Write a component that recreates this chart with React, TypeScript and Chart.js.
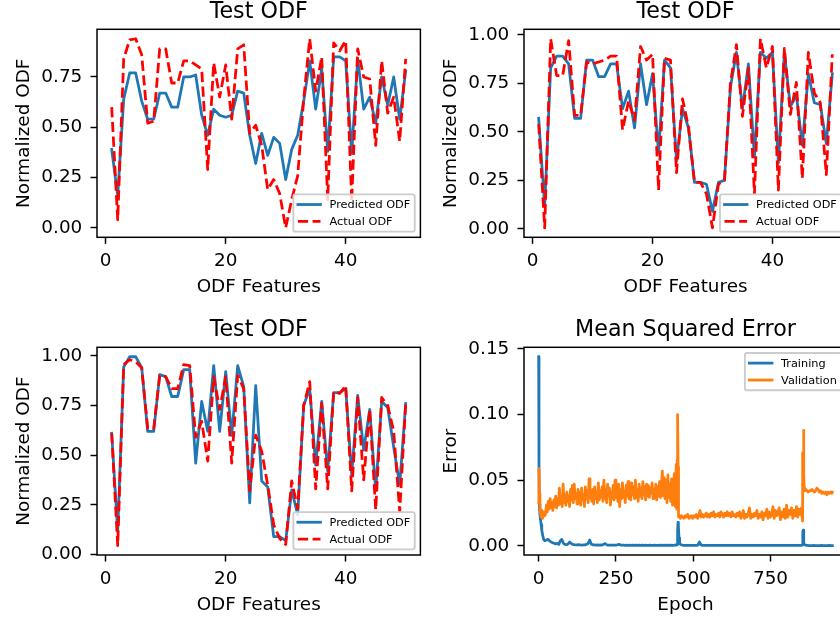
import React, { useEffect, useRef } from "react";
import { Chart, registerables } from "chart.js";

Chart.register(...registerables);

// ---------------- data ----------------
const odfFeatures = [
  1, 2, 3, 4, 5, 6, 7, 8, 9, 10, 11, 12, 13, 14, 15, 16, 17, 18, 19, 20, 21, 22, 23, 24, 25,
  26, 27, 28, 29, 30, 31, 32, 33, 34, 35, 36, 37, 38, 39, 40, 41, 42, 43, 44, 45, 46, 47, 48, 49, 50,
];

const test1Predicted = [
  0.39, 0.16, 0.64, 0.77, 0.77, 0.63, 0.54, 0.54, 0.67, 0.67,
  0.6, 0.6, 0.75, 0.75, 0.76, 0.56, 0.46, 0.59, 0.56, 0.55,
  0.56, 0.68, 0.67, 0.46, 0.32, 0.47, 0.36, 0.45, 0.42, 0.24,
  0.39, 0.46, 0.63, 0.83, 0.59, 0.79, 0.38, 0.85, 0.85, 0.83,
  0.37, 0.84, 0.59, 0.65, 0.52, 0.75, 0.61, 0.75, 0.54, 0.78,
];
const test1Actual = [
  0.6, 0.04, 0.84, 0.935, 0.94, 0.86, 0.52, 0.53, 0.89, 0.89,
  0.72, 0.72, 0.83, 0.83, 0.81, 0.79, 0.29, 0.82, 0.65, 0.81,
  0.54, 0.89, 0.91, 0.47, 0.51, 0.41, 0.19, 0.24, 0.17, 0.0,
  0.14, 0.26, 0.64, 0.94, 0.68, 0.85, 0.14, 0.92, 0.88, 0.93,
  0.13, 0.89, 0.75, 0.74, 0.41, 0.83, 0.57, 0.65, 0.43, 0.84,
];

const test2Predicted = [
  0.57, 0.115, 0.83, 0.89, 0.89, 0.85, 0.57, 0.57, 0.87, 0.87,
  0.785, 0.785, 0.85, 0.85, 0.62, 0.71, 0.52, 0.85, 0.64, 0.8,
  0.39, 0.87, 0.83, 0.35, 0.62, 0.52, 0.24, 0.24, 0.23, 0.09,
  0.24, 0.25, 0.73, 0.91, 0.62, 0.85, 0.37, 0.91, 0.88, 0.91,
  0.34, 0.91, 0.63, 0.69, 0.43, 0.8, 0.65, 0.64, 0.44, 0.8,
];
const test2Actual = [
  0.54, 0.005, 0.98, 0.79, 0.79, 0.97, 0.585, 0.585, 0.86, 0.85,
  0.86, 0.87, 0.89, 0.89, 0.51, 0.66, 0.56, 0.94, 0.87, 0.9,
  0.2, 0.88, 0.87, 0.29, 0.67, 0.525, 0.24, 0.24, 0.18, 0.005,
  0.23, 0.25, 0.75, 0.95, 0.58, 0.83, 0.18, 0.98, 0.83, 0.94,
  0.2, 0.93, 0.59, 0.755, 0.26, 0.91, 0.7, 0.65, 0.28, 0.9,
];

const test3Predicted = [
  0.61, 0.115, 0.945, 0.995, 0.995, 0.94, 0.62, 0.62, 0.905, 0.895,
  0.795, 0.795, 0.93, 0.93, 0.46, 0.77, 0.62, 0.95, 0.62, 0.92,
  0.6, 0.95, 0.845, 0.26, 0.85, 0.37, 0.34, 0.09, 0.09, 0.07,
  0.325, 0.2, 0.75, 0.835, 0.45, 0.77, 0.42, 0.815, 0.815, 0.835,
  0.4, 0.8, 0.525, 0.73, 0.32, 0.77, 0.74, 0.54, 0.35, 0.76,
];
const test3Actual = [
  0.61, 0.045, 0.955, 0.98, 0.97, 0.94, 0.635, 0.635, 0.9, 0.895,
  0.835, 0.835, 0.955, 0.95, 0.59, 0.67, 0.47, 0.895, 0.73, 0.895,
  0.46, 0.9, 0.835, 0.32, 0.6, 0.52, 0.35, 0.15, 0.08, 0.05,
  0.37, 0.23, 0.75, 0.87, 0.33, 0.76, 0.33, 0.82, 0.81, 0.85,
  0.32, 0.79, 0.375, 0.73, 0.225, 0.79, 0.75, 0.62, 0.215, 0.76,
];

const trainingEpochs = [
  0, 1, 2, 4, 6, 8, 10, 13, 16, 20,
  25, 30, 35, 40, 45, 50, 55, 60, 65, 70,
  75, 80, 85, 90, 95, 100, 105, 110, 115, 120,
  125, 130, 135, 140, 145, 150, 155, 160, 165, 170,
  175, 180, 185, 190, 195, 200, 205, 210, 215, 220,
  225, 230, 235, 240, 245, 250, 255, 260, 265, 270,
  275, 280, 285, 290, 295, 300, 305, 310, 315, 320,
  325, 330, 335, 340, 345, 350, 355, 360, 365, 370,
  375, 380, 385, 390, 395, 400, 405, 410, 415, 420,
  425, 430, 435, 440, 443, 446, 448, 449, 450, 451,
  452, 454, 456, 460, 465, 470, 475, 480, 485, 490,
  495, 500, 505, 510, 515, 520, 525, 530, 535, 540,
  545, 550, 555, 560, 565, 570, 575, 580, 585, 590,
  595, 600, 605, 610, 615, 620, 625, 630, 635, 640,
  645, 650, 655, 660, 665, 670, 675, 680, 685, 690,
  695, 700, 705, 710, 715, 720, 725, 730, 735, 740,
  745, 750, 755, 760, 765, 770, 775, 780, 785, 790,
  795, 800, 805, 810, 815, 820, 825, 830, 835, 840,
  845, 848, 851, 853, 854, 855, 856, 857, 858, 860,
  863, 866, 870, 875, 880, 885, 890, 895, 900, 905,
  910, 915, 920, 925, 930, 935, 940, 945, 950,
];
const trainingMse = [
  0.144, 0.06, 0.032, 0.024, 0.02, 0.016, 0.012, 0.008, 0.005, 0.004,
  0.0045, 0.005, 0.004, 0.003, 0.0025, 0.002, 0.0015, 0.002, 0.0012, 0.004,
  0.005, 0.002, 0.0012, 0.001, 0.0015, 0.003, 0.002, 0.0012, 0.001, 0.0009,
  0.0008, 0.001, 0.0008, 0.0007, 0.0009, 0.0008, 0.0012, 0.002, 0.0045, 0.0015,
  0.0009, 0.0008, 0.0007, 0.0008, 0.0007, 0.0008, 0.0007, 0.0012, 0.0018, 0.0009,
  0.0007, 0.0006, 0.0007, 0.0006, 0.0007, 0.0006, 0.0009, 0.0012, 0.0007, 0.0006,
  0.0006, 0.0005, 0.0006, 0.0005, 0.0006, 0.0005, 0.0006, 0.0005, 0.0006, 0.0005,
  0.0006, 0.0005, 0.0006, 0.0005, 0.0006, 0.0005, 0.0005, 0.0006, 0.0005, 0.0005,
  0.0006, 0.0005, 0.0005, 0.0006, 0.0005, 0.0006, 0.0005, 0.0006, 0.0005, 0.0006,
  0.0005, 0.0006, 0.0005, 0.0006, 0.0008, 0.0007, 0.001, 0.0015, 0.012, 0.018,
  0.015, 0.006, 0.002, 0.001, 0.0007, 0.0005, 0.0004, 0.0005, 0.0004, 0.0005,
  0.0004, 0.0005, 0.0004, 0.0005, 0.0006, 0.003, 0.0008, 0.0005, 0.0004, 0.0005,
  0.0004, 0.0004, 0.0005, 0.0004, 0.0004, 0.0005, 0.0004, 0.0004, 0.0005, 0.0004,
  0.0004, 0.0005, 0.0004, 0.0004, 0.0005, 0.0004, 0.0004, 0.0005, 0.0004, 0.0004,
  0.0005, 0.0004, 0.0004, 0.0005, 0.0004, 0.0004, 0.0005, 0.0004, 0.0004, 0.0005,
  0.0004, 0.0004, 0.0005, 0.0004, 0.0004, 0.0005, 0.0004, 0.0004, 0.0005, 0.0004,
  0.0004, 0.0005, 0.0004, 0.0004, 0.0005, 0.0004, 0.0004, 0.0005, 0.0004, 0.0004,
  0.0005, 0.0004, 0.0004, 0.0005, 0.0004, 0.0004, 0.0005, 0.0004, 0.0004, 0.0005,
  0.0004, 0.0004, 0.0005, 0.0008, 0.004, 0.011, 0.012, 0.006, 0.002, 0.001,
  0.0006, 0.0004, 0.0004, 0.0003, 0.0003, 0.0003, 0.0004, 0.0003, 0.0003, 0.0003,
  0.0003, 0.0004, 0.0003, 0.0003, 0.0003, 0.0003, 0.0004, 0.0003, 0.0003,
];

const validationEpochs = [
  0, 1, 2, 4, 6, 8, 10, 13, 16, 19,
  22, 25, 28, 31, 34, 37, 40, 43, 46, 49,
  52, 55, 58, 61, 64, 67, 70, 73, 76, 79,
  82, 85, 88, 91, 94, 97, 100, 103, 106, 109,
  112, 115, 118, 121, 124, 127, 130, 133, 136, 139,
  142, 145, 148, 151, 154, 157, 160, 163, 166, 169,
  172, 175, 178, 181, 184, 187, 190, 193, 196, 199,
  202, 205, 208, 211, 214, 217, 220, 223, 226, 229,
  232, 235, 238, 241, 244, 247, 250, 253, 256, 259,
  262, 265, 268, 271, 274, 277, 280, 283, 286, 289,
  292, 295, 298, 301, 304, 307, 310, 313, 316, 319,
  322, 325, 328, 331, 334, 337, 340, 343, 346, 349,
  352, 355, 358, 361, 364, 367, 370, 373, 376, 379,
  382, 385, 388, 391, 394, 397, 400, 403, 406, 409,
  412, 415, 418, 421, 424, 427, 430, 433, 436, 439,
  442, 445, 447, 448, 449, 450, 451, 452, 453, 455,
  458, 462, 466, 470, 474, 478, 482, 486, 490, 494,
  498, 502, 506, 510, 514, 518, 522, 526, 530, 534,
  538, 542, 546, 550, 554, 558, 562, 566, 570, 574,
  578, 582, 586, 590, 594, 598, 602, 606, 610, 614,
  618, 622, 626, 630, 634, 638, 642, 646, 650, 654,
  658, 662, 666, 670, 674, 678, 682, 686, 690, 694,
  698, 702, 706, 710, 714, 718, 722, 726, 730, 734,
  738, 742, 746, 750, 754, 758, 762, 766, 770, 774,
  778, 782, 786, 790, 794, 798, 802, 806, 810, 814,
  818, 822, 826, 830, 834, 838, 842, 846, 850,
  852, 853, 854, 855, 856, 857, 858, 859, 861, 864,
  868, 872, 876, 880, 884, 888, 892, 896, 900, 904,
  908, 912, 916, 920, 924, 928, 932, 936, 940, 944,
  948, 950,
];
const validationMse = [
  0.033, 0.059, 0.04, 0.03, 0.024, 0.022, 0.027, 0.021, 0.026, 0.023,
  0.024, 0.031, 0.026, 0.034, 0.028, 0.036, 0.029, 0.033, 0.027, 0.035,
  0.03, 0.038, 0.029, 0.036, 0.031, 0.044, 0.032, 0.037, 0.03, 0.047,
  0.033, 0.039, 0.031, 0.041, 0.034, 0.038, 0.03, 0.043, 0.035, 0.046,
  0.033, 0.047, 0.036, 0.04, 0.032, 0.043, 0.034, 0.041, 0.031, 0.044,
  0.035, 0.039, 0.03, 0.045, 0.036, 0.042, 0.033, 0.051, 0.037, 0.04,
  0.034, 0.043, 0.032, 0.045, 0.036, 0.041, 0.033, 0.048, 0.035, 0.042,
  0.037, 0.045, 0.034, 0.05, 0.036, 0.043, 0.033, 0.047, 0.038, 0.044,
  0.031, 0.041, 0.036, 0.046, 0.035, 0.05, 0.037, 0.044, 0.034, 0.047,
  0.03, 0.043, 0.036, 0.048, 0.037, 0.042, 0.033, 0.046, 0.038, 0.049,
  0.036, 0.044, 0.035, 0.048, 0.039, 0.045, 0.036, 0.05, 0.037, 0.043,
  0.034, 0.047, 0.038, 0.044, 0.036, 0.049, 0.039, 0.045, 0.035, 0.047,
  0.038, 0.046, 0.037, 0.044, 0.04, 0.048, 0.036, 0.043, 0.039, 0.047,
  0.035, 0.045, 0.038, 0.049, 0.037, 0.046, 0.057, 0.038, 0.052, 0.036,
  0.05, 0.033, 0.054, 0.037, 0.047, 0.034, 0.051, 0.031, 0.046, 0.055,
  0.03, 0.062, 0.028, 0.065, 0.045, 0.1, 0.06, 0.024, 0.022, 0.023,
  0.021, 0.023, 0.022, 0.021, 0.023, 0.022, 0.024, 0.021, 0.022, 0.023,
  0.021, 0.023, 0.022, 0.024, 0.021, 0.023, 0.027, 0.022, 0.024, 0.022,
  0.023, 0.025, 0.022, 0.024, 0.022, 0.025, 0.023, 0.026, 0.022, 0.024,
  0.023, 0.025, 0.022, 0.026, 0.024, 0.022, 0.025, 0.023, 0.026, 0.023,
  0.025, 0.022, 0.026, 0.023, 0.024, 0.022, 0.025, 0.023, 0.026, 0.021,
  0.023, 0.027, 0.021, 0.024, 0.022, 0.025, 0.029, 0.021, 0.024, 0.022,
  0.025, 0.023, 0.027, 0.021, 0.024, 0.022, 0.026, 0.02, 0.025, 0.023,
  0.028, 0.021, 0.026, 0.022, 0.024, 0.03, 0.021, 0.027, 0.023, 0.025,
  0.029, 0.02, 0.026, 0.022, 0.028, 0.021, 0.031, 0.022, 0.027, 0.024,
  0.029, 0.021, 0.027, 0.023, 0.03, 0.022, 0.028, 0.024, 0.029,
  0.023, 0.019, 0.03, 0.071, 0.06, 0.088, 0.055, 0.044, 0.042, 0.043,
  0.042, 0.041, 0.042, 0.042, 0.043, 0.042, 0.041, 0.042, 0.044, 0.043,
  0.041, 0.042, 0.04, 0.041, 0.04, 0.041, 0.039, 0.041, 0.04, 0.041,
  0.04, 0.041,
];

const odfXTicks = [0, 20, 40];
const odfYTicks = [0, 0.25, 0.5, 0.75, 1.0];
const mseXTicks = [0, 250, 500, 750];
const mseYTicks = [0, 0.05, 0.1, 0.15];

// ---------------- styling ----------------
const FONT = "'DejaVu Sans', 'Liberation Sans', sans-serif";
const FS = 18.4;
const TITLE_FS = 22.2;
const LEGEND_FS = 11.3;
const LW = 2.77;
const SPINE = 1.48;
const TICK_LEN = 6.5;
const BLUE = "#1f77b4";
const RED = "#ff0000";
const ORANGE = "#ff7f0e";

type Box = { x: number; y: number; w: number; h: number };
type Area = { l: number; r: number; t: number; b: number };

const framePlugin = {
  id: "mplFrame",
  afterDatasetsDraw(chart: any) {
    const { ctx, chartArea: a } = chart;
    ctx.save();
    ctx.strokeStyle = "#000";
    ctx.lineWidth = SPINE;
    ctx.strokeRect(a.left, a.top, a.right - a.left, a.bottom - a.top);
    ctx.restore();
  },
};

const legendPlugin = {
  id: "mplLegend",
  afterDraw(chart: any, _args: any, opts: any) {
    const { ctx, chartArea: a } = chart;
    const fs = opts.fontSize;
    ctx.save();
    ctx.font = `${fs}px ${FONT}`;
    const items = chart.data.datasets.map((d: any) => ({
      label: d.label,
      color: d.borderColor,
      dash: d.borderDash || [],
      width: d.borderWidth,
      cap: d.borderCapStyle || "butt",
    }));
    const textW = Math.max(...items.map((it: any) => ctx.measureText(it.label).width));
    const pad = 0.4 * fs;
    const hl = 2 * fs;
    const htp = 0.8 * fs;
    const rowH = fs;
    const ls = 0.5 * fs;
    const bap = 0.5 * fs;
    const w = pad + hl + htp + textW + pad;
    const h = 2 * pad + items.length * rowH + (items.length - 1) * ls;
    const x = a.right - bap - w;
    const y = opts.loc === "upper right" ? a.top + bap : a.bottom - bap - h;
    const r = 0.2 * fs;
    ctx.beginPath();
    ctx.moveTo(x + r, y);
    ctx.lineTo(x + w - r, y);
    ctx.quadraticCurveTo(x + w, y, x + w, y + r);
    ctx.lineTo(x + w, y + h - r);
    ctx.quadraticCurveTo(x + w, y + h, x + w - r, y + h);
    ctx.lineTo(x + r, y + h);
    ctx.quadraticCurveTo(x, y + h, x, y + h - r);
    ctx.lineTo(x, y + r);
    ctx.quadraticCurveTo(x, y, x + r, y);
    ctx.closePath();
    ctx.fillStyle = "rgba(255,255,255,0.8)";
    ctx.fill();
    ctx.strokeStyle = "#cccccc";
    ctx.lineWidth = 1.85;
    ctx.stroke();
    items.forEach((it: any, i: number) => {
      const cy = y + pad + i * (rowH + ls) + rowH / 2;
      ctx.beginPath();
      ctx.setLineDash(it.dash);
      ctx.lineCap = it.cap;
      ctx.strokeStyle = it.color;
      ctx.lineWidth = it.width;
      ctx.moveTo(x + pad, cy);
      ctx.lineTo(x + pad + hl, cy);
      ctx.stroke();
      ctx.setLineDash([]);
      ctx.fillStyle = "#000";
      ctx.textBaseline = "middle";
      ctx.textAlign = "left";
      ctx.fillText(it.label, x + pad + hl + htp, cy + 0.7);
    });
    ctx.restore();
  },
};

function padRange(values: number[]) {
  const lo = Math.min(...values);
  const hi = Math.max(...values);
  const m = (hi - lo) * 0.05;
  return { min: lo - m, max: hi + m };
}

function points(xs: number[], ys: number[]) {
  const n = Math.min(xs.length, ys.length);
  return xs.slice(0, n).map((x, i) => ({ x, y: ys[i] }));
}

type Series = { label: string; xs: number[]; values: number[]; color: string; dashed: boolean; order: number };

type PanelSpec = {
  canvas: Box;
  area: Area;
  title: string;
  xLabel: string;
  yLabel: string;
  xTicks: number[];
  yTicks: number[];
  xDigits: number;
  yDigits: number;
  series: Series[];
  legendLoc: string;
};

function buildConfig(p: PanelSpec): any {
  const { canvas: c, area: a } = p;
  const yW = a.l - c.x;
  const xH = c.y + c.h - a.b;
  const titleBox = a.t - c.y;
  const titlePt = a.t - 17.5 - c.y - TITLE_FS / 2;
  const titlePb = titleBox - titlePt - TITLE_FS;
  const yTitlePt = a.l - 72.5 - c.x - FS / 2;
  const xTitlePb = c.y + c.h - (a.b + 50) - FS / 2;
  const xr = padRange(p.series.flatMap((s) => s.xs));
  const yr = padRange(p.series.flatMap((s) => s.values));
  const zeroPad = (s: any) => {
    s.paddingLeft = 0;
    s.paddingRight = 0;
    s.paddingTop = 0;
    s.paddingBottom = 0;
  };
  const grid = {
    display: true,
    drawOnChartArea: false,
    drawTicks: true,
    tickLength: TICK_LEN,
    tickColor: "#000",
    tickWidth: SPINE,
  };
  return {
    type: "line",
    data: {
      datasets: p.series.map((s) => ({
        label: s.label,
        data: points(s.xs, s.values),
        borderColor: s.color,
        backgroundColor: s.color,
        borderWidth: LW,
        borderDash: s.dashed ? [10.25, 4.43] : [],
        borderCapStyle: s.dashed ? "butt" : "square",
        borderJoinStyle: "round",
        pointRadius: 0,
        pointHoverRadius: 0,
        fill: false,
        tension: 0,
        order: s.order,
      })),
    },
    options: {
      responsive: false,
      animation: false,
      devicePixelRatio: 1,
      events: [],
      layout: {
        autoPadding: false,
        padding: { left: 0, top: 0, bottom: 0, right: c.x + c.w - a.r },
      },
      plugins: {
        legend: { display: false },
        tooltip: { enabled: false },
        title: {
          display: true,
          text: p.title,
          fullSize: false,
          color: "#000",
          font: { family: FONT, size: TITLE_FS, weight: "normal", lineHeight: 1 },
          padding: { top: titlePt, bottom: titlePb },
        },
        mplLegend: { loc: p.legendLoc, fontSize: LEGEND_FS },
      },
      scales: {
        x: {
          type: "linear",
          position: "bottom",
          min: xr.min,
          max: xr.max,
          afterBuildTicks: (s: any) => {
            s.ticks = p.xTicks.map((v) => ({ value: v }));
          },
          afterFit: (s: any) => {
            s.height = xH;
            zeroPad(s);
          },
          grid,
          border: { display: false },
          ticks: {
            color: "#000",
            font: { family: FONT, size: FS, lineHeight: 1 },
            padding: 8.3,
            maxRotation: 0,
            minRotation: 0,
            autoSkip: false,
            callback: (v: any) => Number(v).toFixed(p.xDigits),
          },
          title: {
            display: true,
            text: p.xLabel,
            color: "#000",
            font: { family: FONT, size: FS, weight: "normal", lineHeight: 1 },
            padding: { top: 0, bottom: xTitlePb },
          },
        },
        y: {
          type: "linear",
          position: "left",
          min: yr.min,
          max: yr.max,
          afterBuildTicks: (s: any) => {
            s.ticks = p.yTicks.filter((v) => v >= yr.min && v <= yr.max).map((v) => ({ value: v }));
          },
          afterFit: (s: any) => {
            s.width = yW;
            zeroPad(s);
          },
          grid,
          border: { display: false },
          ticks: {
            color: "#000",
            font: { family: FONT, size: FS, lineHeight: 1 },
            padding: 8.2,
            autoSkip: false,
            callback: (v: any) => Number(v).toFixed(p.yDigits),
          },
          title: {
            display: true,
            text: p.yLabel,
            color: "#000",
            font: { family: FONT, size: FS, weight: "normal", lineHeight: 1 },
            padding: { top: yTitlePt, bottom: 0 },
          },
        },
      },
    },
    plugins: [framePlugin, legendPlugin],
  };
}

const odfPanel = (canvas: Box, area: Area, pred: number[], act: number[]): PanelSpec => ({
  canvas,
  area,
  title: "Test ODF",
  xLabel: "ODF Features",
  yLabel: "Normalized ODF",
  xTicks: odfXTicks,
  yTicks: odfYTicks,
  xDigits: 0,
  yDigits: 2,
  series: [
    { label: "Predicted ODF", xs: odfFeatures, values: pred, color: BLUE, dashed: false, order: 1 },
    { label: "Actual ODF", xs: odfFeatures, values: act, color: RED, dashed: true, order: 0 },
  ],
  legendLoc: "lower right",
});

const panels: PanelSpec[] = [
  odfPanel({ x: 0, y: 0, w: 430, h: 305 }, { l: 97, r: 420.4, t: 29.3, b: 237.3 }, test1Predicted, test1Actual),
  odfPanel({ x: 430, y: 0, w: 430, h: 305 }, { l: 524, r: 847, t: 29.3, b: 237.3 }, test2Predicted, test2Actual),
  odfPanel({ x: 0, y: 305, w: 430, h: 312 }, { l: 97, r: 420.4, t: 347.3, b: 555 }, test3Predicted, test3Actual),
  {
    canvas: { x: 430, y: 305, w: 430, h: 312 },
    area: { l: 524, r: 847, t: 347.3, b: 555 },
    title: "Mean Squared Error",
    xLabel: "Epoch",
    yLabel: "Error",
    xTicks: mseXTicks,
    yTicks: mseYTicks,
    xDigits: 0,
    yDigits: 2,
    series: [
      { label: "Training", xs: trainingEpochs, values: trainingMse, color: BLUE, dashed: false, order: 1 },
      { label: "Validation", xs: validationEpochs, values: validationMse, color: ORANGE, dashed: false, order: 0 },
    ],
    legendLoc: "upper right",
  },
];

function Panel({ spec }: { spec: PanelSpec }) {
  const ref = useRef<HTMLCanvasElement>(null);
  useEffect(() => {
    if (!ref.current) return;
    const chart = new Chart(ref.current, buildConfig(spec));
    return () => chart.destroy();
  }, [spec]);
  const c = spec.canvas;
  return (
    <canvas
      ref={ref}
      width={c.w}
      height={c.h}
      style={{ position: "absolute", left: c.x, top: c.y, width: c.w, height: c.h }}
    />
  );
}

export default function App() {
  return (
    <div
      style={{
        position: "absolute",
        left: 0,
        top: 0,
        width: 840,
        height: 617,
        overflow: "hidden",
        background: "#fff",
      }}
    >
      {panels.map((p, i) => (
        <Panel key={i} spec={p} />
      ))}
    </div>
  );
}
